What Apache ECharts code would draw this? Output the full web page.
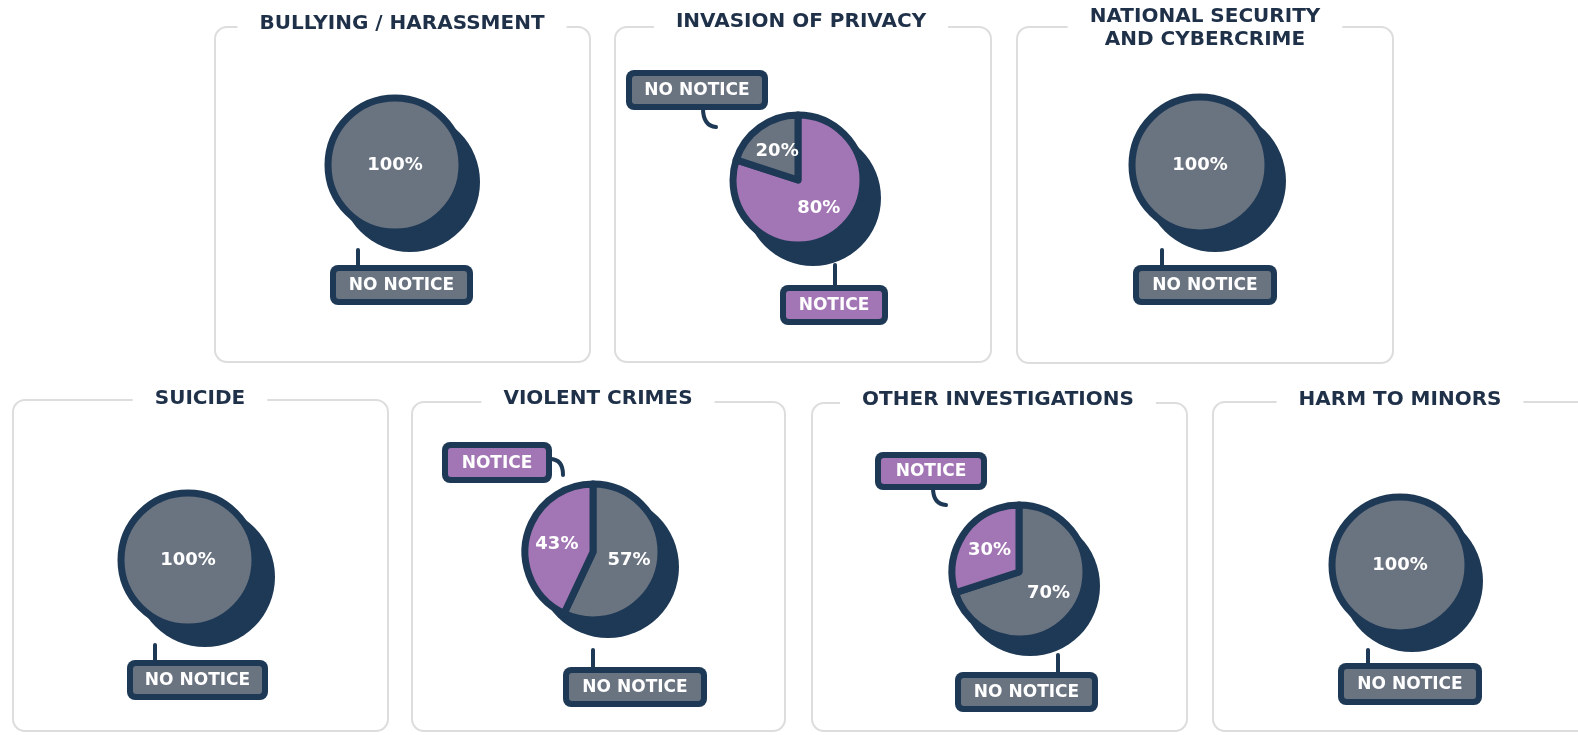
<!DOCTYPE html>
<html>
<head>
<meta charset="utf-8">
<title>Notice by request type</title>
<script src="https://cdn.jsdelivr.net/npm/echarts@6/dist/echarts.min.js"></script>
<style>
  html, body { margin: 0; padding: 0; background: #fff; }
  #chart { width: 1578px; height: 735px; }
</style>
</head>
<body>
<div id="chart"></div>
<script>
// data
const panelTitles = [
  'BULLYING / HARASSMENT',
  'INVASION OF PRIVACY',
  'NATIONAL SECURITY\nAND CYBERCRIME',
  'SUICIDE',
  'VIOLENT CRIMES',
  'OTHER INVESTIGATIONS',
  'HARM TO MINORS'
]
const categories = ['NOTICE', 'NO NOTICE']
const noticeShare = [0, 80, 0, 0, 43, 30, 0]
const noNoticeShare = [100, 20, 100, 100, 57, 70, 100]

// colours
const NAVY = '#1e3955'
const TITLE = '#1f3049'
const GREY = '#6a7380'
const PURPLE = '#a275b4'
const FRAME = '#dddddd'
const catColor = { 'NOTICE': PURPLE, 'NO NOTICE': GREY }

// layout of each panel (pixels)
// link: [x1, y1, x2, y2] straight stem, or [x1, y1, cpx, cpy, x2, y2] hook
const layout = [
  { box: [215, 27, 375, 335], title: [402, 24], pie: [395, 165], r: 70, shadow: [15, 17],
    callouts: [{ cat: 'NO NOTICE', x: 330, y: 265, w: 143, h: 40, link: [358, 250, 358, 265] }] },
  { box: [615, 27, 376, 335], title: [801, 22], pie: [798, 180], r: 68, shadow: [15, 18],
    callouts: [
      { cat: 'NO NOTICE', x: 626, y: 70, w: 142, h: 40, link: [703, 108, 703, 126, 716, 127] },
      { cat: 'NOTICE', x: 780, y: 285, w: 108, h: 40, link: [835, 265, 835, 285] }
    ] },
  { box: [1017, 27, 376, 336], title: [1205, 28], pie: [1200, 165], r: 71, shadow: [15, 16],
    callouts: [{ cat: 'NO NOTICE', x: 1133, y: 265, w: 144, h: 40, link: [1162, 250, 1162, 265] }] },
  { box: [13, 400, 375, 331], title: [200, 399], pie: [188, 560], r: 70, shadow: [17, 17],
    callouts: [{ cat: 'NO NOTICE', x: 127, y: 660, w: 141, h: 40, link: [155, 645, 155, 660] }] },
  { box: [412, 402, 373, 329], title: [598, 399], pie: [593, 552], r: 71, shadow: [15, 15],
    callouts: [
      { cat: 'NOTICE', x: 442, y: 442, w: 110, h: 41, link: [550, 459, 563, 459, 563, 475] },
      { cat: 'NO NOTICE', x: 563, y: 667, w: 144, h: 40, link: [593, 650, 593, 667] }
    ] },
  { box: [812, 403, 375, 328], title: [998, 400], pie: [1019, 572], r: 70, shadow: [11, 14],
    callouts: [
      { cat: 'NOTICE', x: 875, y: 452, w: 112, h: 38, link: [933, 488, 933, 504, 946, 505] },
      { cat: 'NO NOTICE', x: 955, y: 672, w: 143, h: 40, link: [1058, 655, 1058, 672] }
    ] },
  { box: [1213, 402, 400, 329], title: [1400, 400], pie: [1400, 565], r: 71, shadow: [12, 16],
    callouts: [{ cat: 'NO NOTICE', x: 1338, y: 663, w: 144, h: 42, link: [1368, 650, 1368, 663] }] }
]

const chart = echarts.init(document.getElementById('chart'))

const series = []
const graphics = []

panelTitles.forEach((title, i) => {
  const L = layout[i]
  const values = { 'NOTICE': noticeShare[i], 'NO NOTICE': noNoticeShare[i] }
  // larger share runs clockwise from twelve o'clock
  const slices = categories
    .map(c => ({ name: c, value: values[c], itemStyle: { color: catColor[c] } }))
    .filter(d => d.value > 0)
    .sort((a, b) => b.value - a.value)
  const total = slices.reduce((s, d) => s + d.value, 0)
  const single = slices.length === 1

  // offset dark disc behind the pie
  series.push({
    type: 'pie', silent: true, animation: false, z: 1,
    center: [L.pie[0] + L.shadow[0], L.pie[1] + L.shadow[1]],
    radius: L.r,
    label: { show: false }, labelLine: { show: false },
    itemStyle: { color: NAVY },
    data: [{ name: 'shadow', value: total }]
  })
  series.push({
    type: 'pie', silent: true, animation: false, z: 2,
    center: L.pie, radius: L.r - 3,
    startAngle: 90, clockwise: true,
    itemStyle: { borderColor: NAVY, borderWidth: 7 },
    label: {
      show: true,
      position: single ? 'center' : 'inside',
      formatter: '{c}%',
      color: '#fff',
      fontFamily: 'DejaVu Sans',
      fontWeight: 'bold',
      fontSize: 18
    },
    labelLine: { show: false },
    data: slices
  })

  // panel frame with title cut into the top edge
  graphics.push({
    type: 'rect', z: 0, silent: true,
    shape: { x: L.box[0], y: L.box[1], width: L.box[2], height: L.box[3], r: 12 },
    style: { fill: 'none', stroke: FRAME, lineWidth: 2 }
  })
  graphics.push({
    type: 'text', z: 1, silent: true,
    x: L.title[0], y: L.title[1],
    style: {
      text: title, fill: TITLE,
      font: 'bold 20px "DejaVu Sans"',
      align: 'center', verticalAlign: 'middle',
      lineHeight: 23,
      backgroundColor: '#fff', padding: [2, 22]
    }
  })

  // callout boxes
  L.callouts.forEach(c => {
    const k = c.link
    if (k.length === 4) {
      graphics.push({
        type: 'line', z: 3, silent: true,
        shape: { x1: k[0], y1: k[1], x2: k[2], y2: k[3] },
        style: { stroke: NAVY, lineWidth: 4, lineCap: 'round' }
      })
    } else {
      graphics.push({
        type: 'bezierCurve', z: 3, silent: true,
        shape: { x1: k[0], y1: k[1], cpx1: k[2], cpy1: k[3], x2: k[4], y2: k[5] },
        style: { fill: 'none', stroke: NAVY, lineWidth: 4, lineCap: 'round' }
      })
    }
    graphics.push({
      type: 'rect', z: 4, silent: true,
      shape: { x: c.x, y: c.y, width: c.w, height: c.h, r: 8 },
      style: { fill: NAVY }
    })
    graphics.push({
      type: 'rect', z: 5, silent: true,
      shape: { x: c.x + 6, y: c.y + 6, width: c.w - 12, height: c.h - 12, r: 3 },
      style: { fill: catColor[c.cat] }
    })
    graphics.push({
      type: 'text', z: 6, silent: true,
      x: c.x + c.w / 2, y: c.y + c.h / 2 + 1,
      style: {
        text: c.cat, fill: '#fff',
        font: 'bold 17px "DejaVu Sans"',
        align: 'center', verticalAlign: 'middle'
      }
    })
  })
})

chart.setOption({
  animation: false,
  backgroundColor: '#fff',
  series: series,
  graphic: graphics
})
</script>
</body>
</html>
